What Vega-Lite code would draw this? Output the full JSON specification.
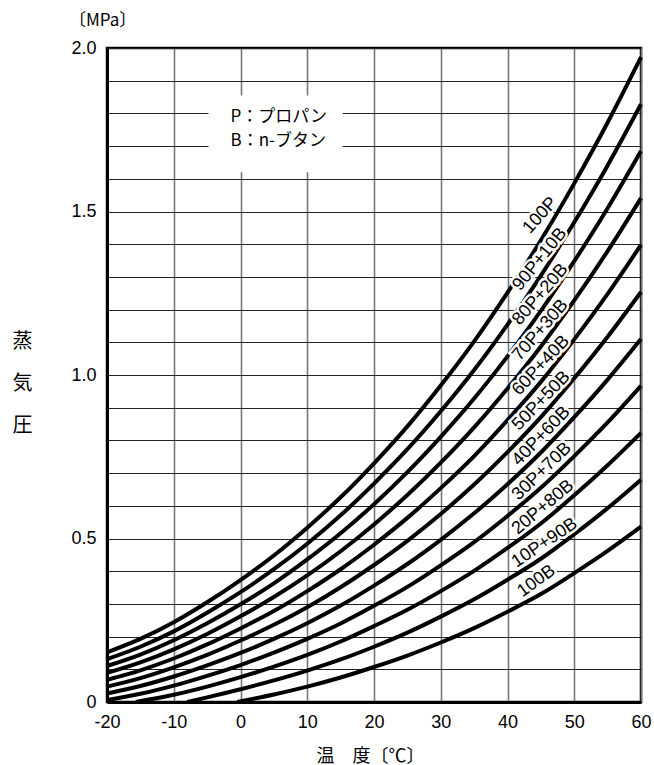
{
  "$schema": "https://vega.github.io/schema/vega-lite/v6.json",
  "autosize": {"type": "none"},
  "padding": {"left": 107, "top": 48, "right": 13, "bottom": 63},
  "width": 534,
  "height": 654,
  "background": "white",
  "config": {
    "view": {"stroke": "black", "strokeWidth": 2.5},
    "axis": {"domainColor": "black", "domainWidth": 3, "labelColor": "black", "titleColor": "black", "titleFontWeight": "normal"}
  },
  "datasets": {
    "curves": [
      {"s": "100P", "t": -20, "p": 0.152}, {"s": "100P", "t": -15, "p": 0.193}, {"s": "100P", "t": -10, "p": 0.244}, {"s": "100P", "t": -5, "p": 0.305}, {"s": "100P", "t": 0, "p": 0.373}, {"s": "100P", "t": 5, "p": 0.448}, {"s": "100P", "t": 10, "p": 0.533}, {"s": "100P", "t": 15, "p": 0.626}, {"s": "100P", "t": 20, "p": 0.730}, {"s": "100P", "t": 25, "p": 0.843}, {"s": "100P", "t": 30, "p": 0.968}, {"s": "100P", "t": 35, "p": 1.103}, {"s": "100P", "t": 40, "p": 1.252}, {"s": "100P", "t": 45, "p": 1.412}, {"s": "100P", "t": 50, "p": 1.586}, {"s": "100P", "t": 55, "p": 1.772}, {"s": "100P", "t": 60, "p": 1.972},
      {"s": "90P+10B", "t": -20, "p": 0.131}, {"s": "90P+10B", "t": -15, "p": 0.169}, {"s": "90P+10B", "t": -10, "p": 0.216}, {"s": "90P+10B", "t": -5, "p": 0.273}, {"s": "90P+10B", "t": 0, "p": 0.336}, {"s": "90P+10B", "t": 5, "p": 0.406}, {"s": "90P+10B", "t": 10, "p": 0.484}, {"s": "90P+10B", "t": 15, "p": 0.571}, {"s": "90P+10B", "t": 20, "p": 0.668}, {"s": "90P+10B", "t": 25, "p": 0.773}, {"s": "90P+10B", "t": 30, "p": 0.889}, {"s": "90P+10B", "t": 35, "p": 1.015}, {"s": "90P+10B", "t": 40, "p": 1.154}, {"s": "90P+10B", "t": 45, "p": 1.304}, {"s": "90P+10B", "t": 50, "p": 1.467}, {"s": "90P+10B", "t": 55, "p": 1.641}, {"s": "90P+10B", "t": 60, "p": 1.828},
      {"s": "80P+20B", "t": -20, "p": 0.110}, {"s": "80P+20B", "t": -15, "p": 0.145}, {"s": "80P+20B", "t": -10, "p": 0.189}, {"s": "80P+20B", "t": -5, "p": 0.241}, {"s": "80P+20B", "t": 0, "p": 0.299}, {"s": "80P+20B", "t": 5, "p": 0.363}, {"s": "80P+20B", "t": 10, "p": 0.436}, {"s": "80P+20B", "t": 15, "p": 0.516}, {"s": "80P+20B", "t": 20, "p": 0.605}, {"s": "80P+20B", "t": 25, "p": 0.703}, {"s": "80P+20B", "t": 30, "p": 0.811}, {"s": "80P+20B", "t": 35, "p": 0.928}, {"s": "80P+20B", "t": 40, "p": 1.057}, {"s": "80P+20B", "t": 45, "p": 1.196}, {"s": "80P+20B", "t": 50, "p": 1.348}, {"s": "80P+20B", "t": 55, "p": 1.510}, {"s": "80P+20B", "t": 60, "p": 1.685},
      {"s": "70P+30B", "t": -20, "p": 0.089}, {"s": "70P+30B", "t": -15, "p": 0.121}, {"s": "70P+30B", "t": -10, "p": 0.161}, {"s": "70P+30B", "t": -5, "p": 0.208}, {"s": "70P+30B", "t": 0, "p": 0.262}, {"s": "70P+30B", "t": 5, "p": 0.321}, {"s": "70P+30B", "t": 10, "p": 0.387}, {"s": "70P+30B", "t": 15, "p": 0.461}, {"s": "70P+30B", "t": 20, "p": 0.543}, {"s": "70P+30B", "t": 25, "p": 0.633}, {"s": "70P+30B", "t": 30, "p": 0.732}, {"s": "70P+30B", "t": 35, "p": 0.840}, {"s": "70P+30B", "t": 40, "p": 0.959}, {"s": "70P+30B", "t": 45, "p": 1.087}, {"s": "70P+30B", "t": 50, "p": 1.228}, {"s": "70P+30B", "t": 55, "p": 1.379}, {"s": "70P+30B", "t": 60, "p": 1.541},
      {"s": "60P+40B", "t": -20, "p": 0.068}, {"s": "60P+40B", "t": -15, "p": 0.097}, {"s": "60P+40B", "t": -10, "p": 0.133}, {"s": "60P+40B", "t": -5, "p": 0.176}, {"s": "60P+40B", "t": 0, "p": 0.225}, {"s": "60P+40B", "t": 5, "p": 0.278}, {"s": "60P+40B", "t": 10, "p": 0.339}, {"s": "60P+40B", "t": 15, "p": 0.406}, {"s": "60P+40B", "t": 20, "p": 0.481}, {"s": "60P+40B", "t": 25, "p": 0.563}, {"s": "60P+40B", "t": 30, "p": 0.654}, {"s": "60P+40B", "t": 35, "p": 0.752}, {"s": "60P+40B", "t": 40, "p": 0.862}, {"s": "60P+40B", "t": 45, "p": 0.979}, {"s": "60P+40B", "t": 50, "p": 1.109}, {"s": "60P+40B", "t": 55, "p": 1.248}, {"s": "60P+40B", "t": 60, "p": 1.398},
      {"s": "50P+50B", "t": -20, "p": 0.047}, {"s": "50P+50B", "t": -15, "p": 0.073}, {"s": "50P+50B", "t": -10, "p": 0.106}, {"s": "50P+50B", "t": -5, "p": 0.144}, {"s": "50P+50B", "t": 0, "p": 0.188}, {"s": "50P+50B", "t": 5, "p": 0.236}, {"s": "50P+50B", "t": 10, "p": 0.290}, {"s": "50P+50B", "t": 15, "p": 0.351}, {"s": "50P+50B", "t": 20, "p": 0.419}, {"s": "50P+50B", "t": 25, "p": 0.493}, {"s": "50P+50B", "t": 30, "p": 0.575}, {"s": "50P+50B", "t": 35, "p": 0.665}, {"s": "50P+50B", "t": 40, "p": 0.764}, {"s": "50P+50B", "t": 45, "p": 0.871}, {"s": "50P+50B", "t": 50, "p": 0.990}, {"s": "50P+50B", "t": 55, "p": 1.117}, {"s": "50P+50B", "t": 60, "p": 1.254},
      {"s": "40P+60B", "t": -20, "p": 0.026}, {"s": "40P+60B", "t": -15, "p": 0.049}, {"s": "40P+60B", "t": -10, "p": 0.078}, {"s": "40P+60B", "t": -5, "p": 0.112}, {"s": "40P+60B", "t": 0, "p": 0.150}, {"s": "40P+60B", "t": 5, "p": 0.193}, {"s": "40P+60B", "t": 10, "p": 0.241}, {"s": "40P+60B", "t": 15, "p": 0.295}, {"s": "40P+60B", "t": 20, "p": 0.356}, {"s": "40P+60B", "t": 25, "p": 0.422}, {"s": "40P+60B", "t": 30, "p": 0.496}, {"s": "40P+60B", "t": 35, "p": 0.577}, {"s": "40P+60B", "t": 40, "p": 0.666}, {"s": "40P+60B", "t": 45, "p": 0.763}, {"s": "40P+60B", "t": 50, "p": 0.871}, {"s": "40P+60B", "t": 55, "p": 0.986}, {"s": "40P+60B", "t": 60, "p": 1.110},
      {"s": "30P+70B", "t": -20, "p": 0.006}, {"s": "30P+70B", "t": -15, "p": 0.025}, {"s": "30P+70B", "t": -10, "p": 0.050}, {"s": "30P+70B", "t": -5, "p": 0.080}, {"s": "30P+70B", "t": 0, "p": 0.113}, {"s": "30P+70B", "t": 5, "p": 0.151}, {"s": "30P+70B", "t": 10, "p": 0.193}, {"s": "30P+70B", "t": 15, "p": 0.240}, {"s": "30P+70B", "t": 20, "p": 0.294}, {"s": "30P+70B", "t": 25, "p": 0.352}, {"s": "30P+70B", "t": 30, "p": 0.418}, {"s": "30P+70B", "t": 35, "p": 0.489}, {"s": "30P+70B", "t": 40, "p": 0.569}, {"s": "30P+70B", "t": 45, "p": 0.655}, {"s": "30P+70B", "t": 50, "p": 0.752}, {"s": "30P+70B", "t": 55, "p": 0.855}, {"s": "30P+70B", "t": 60, "p": 0.967},
      {"s": "20P+80B", "t": -15.7, "p": 0.0}, {"s": "20P+80B", "t": -10, "p": 0.022}, {"s": "20P+80B", "t": -5, "p": 0.047}, {"s": "20P+80B", "t": 0, "p": 0.076}, {"s": "20P+80B", "t": 5, "p": 0.108}, {"s": "20P+80B", "t": 10, "p": 0.144}, {"s": "20P+80B", "t": 15, "p": 0.185}, {"s": "20P+80B", "t": 20, "p": 0.232}, {"s": "20P+80B", "t": 25, "p": 0.282}, {"s": "20P+80B", "t": 30, "p": 0.339}, {"s": "20P+80B", "t": 35, "p": 0.401}, {"s": "20P+80B", "t": 40, "p": 0.471}, {"s": "20P+80B", "t": 45, "p": 0.546}, {"s": "20P+80B", "t": 50, "p": 0.632}, {"s": "20P+80B", "t": 55, "p": 0.724}, {"s": "20P+80B", "t": 60, "p": 0.823},
      {"s": "10P+90B", "t": -8, "p": 0.0}, {"s": "10P+90B", "t": -5, "p": 0.014}, {"s": "10P+90B", "t": 0, "p": 0.039}, {"s": "10P+90B", "t": 5, "p": 0.066}, {"s": "10P+90B", "t": 10, "p": 0.096}, {"s": "10P+90B", "t": 15, "p": 0.130}, {"s": "10P+90B", "t": 20, "p": 0.169}, {"s": "10P+90B", "t": 25, "p": 0.212}, {"s": "10P+90B", "t": 30, "p": 0.261}, {"s": "10P+90B", "t": 35, "p": 0.314}, {"s": "10P+90B", "t": 40, "p": 0.374}, {"s": "10P+90B", "t": 45, "p": 0.438}, {"s": "10P+90B", "t": 50, "p": 0.513}, {"s": "10P+90B", "t": 55, "p": 0.593}, {"s": "10P+90B", "t": 60, "p": 0.680},
      {"s": "100B", "t": -0.5, "p": 0.0}, {"s": "100B", "t": 5, "p": 0.023}, {"s": "100B", "t": 10, "p": 0.047}, {"s": "100B", "t": 15, "p": 0.075}, {"s": "100B", "t": 20, "p": 0.107}, {"s": "100B", "t": 25, "p": 0.142}, {"s": "100B", "t": 30, "p": 0.182}, {"s": "100B", "t": 35, "p": 0.226}, {"s": "100B", "t": 40, "p": 0.276}, {"s": "100B", "t": 45, "p": 0.330}, {"s": "100B", "t": 50, "p": 0.394}, {"s": "100B", "t": 55, "p": 0.462}, {"s": "100B", "t": 60, "p": 0.536}
    ]
  },
  "layer": [
    {
      "data": {"name": "curves"},
      "mark": {"type": "line", "color": "black", "strokeWidth": 4, "interpolate": "monotone"},
      "encoding": {
        "x": {"field": "t", "type": "quantitative",
          "scale": {"domain": [-20, 60], "nice": false, "zero": false},
          "axis": {"title": "温　度〔℃〕", "values": [-20, -10, 0, 10, 20, 30, 40, 50, 60], "tickCount": 20,
            "labelExpr": "datum.value < 0 ? '-' + abs(datum.value) : '' + datum.value",
            "ticks": false, "tickSize": 0, "labelPadding": 11, "labelFontSize": 18, "labelFont": "Liberation Sans",
            "labelFlush": false, "labelOverlap": false,
            "grid": true, "gridColor": "#777777", "gridWidth": 1.6,
            "titleFont": "Noto Sans CJK JP", "titleFontSize": 18, "titleX": 263, "titleY": 45, "titleAlign": "center", "titleBaseline": "top"}},
        "y": {"field": "p", "type": "quantitative",
          "scale": {"domain": [0, 2.0], "nice": false},
          "axis": {"title": ["蒸", "気", "圧"], "values": [0, 0.1, 0.2, 0.3, 0.4, 0.5, 0.6, 0.7, 0.8, 0.9, 1.0, 1.1, 1.2, 1.3, 1.4, 1.5, 1.6, 1.7, 1.8, 1.9, 2.0], "tickCount": 40,
            "labelExpr": "datum.value == 0 ? '0' : (abs(datum.value * 2 - round(datum.value * 2)) < 0.001 ? format(datum.value, '.1f') : '')",
            "ticks": false, "tickSize": 0, "labelPadding": 11, "labelFontSize": 18, "labelFont": "Liberation Sans",
            "labelOverlap": false, "labelFlush": false,
            "grid": true, "gridColor": "#222222", "gridWidth": 1.1,
            "titleAngle": 0, "titleFont": "Noto Sans CJK JP", "titleFontSize": 20, "titleLineHeight": 42,
            "titleAlign": "center", "titleBaseline": "top", "titleX": -85, "titleY": 283}},
        "detail": {"field": "s", "type": "nominal"}
      }
    },
    {
      "data": {"values": [{}]},
      "mark": {"type": "rect", "fill": "white", "stroke": null},
      "encoding": {"x": {"datum": -4.8}, "x2": {"datum": 15.3}, "y": {"datum": 1.855}, "y2": {"datum": 1.62}}
    },
    {
      "data": {"values": [{}]},
      "mark": {"type": "text", "text": "P：プロパン", "font": "Noto Sans CJK JP", "fontSize": 17, "align": "left", "baseline": "middle", "color": "black"},
      "encoding": {"x": {"datum": -1.5}, "y": {"datum": 1.79}}
    },
    {
      "data": {"values": [{}]},
      "mark": {"type": "text", "text": "B：n-ブタン", "font": "Noto Sans CJK JP", "fontSize": 17, "align": "left", "baseline": "middle", "color": "black"},
      "encoding": {"x": {"datum": -1.5}, "y": {"datum": 1.715}}
    },
    {
      "data": {"values": [{}]},
      "mark": {"type": "text", "text": "〔MPa〕", "font": "Noto Sans CJK JP", "fontSize": 17, "align": "left", "baseline": "middle", "color": "black", "dx": -38, "dy": -27},
      "encoding": {"x": {"datum": -20}, "y": {"datum": 2.0}}
    },
    {
      "data": {"name": "curves"},
      "transform": [{"filter": "datum.t == 45 && datum.s != '100P' && datum.s != '100B'"}],
      "mark": {"type": "text", "font": "Liberation Sans", "fontSize": 18, "align": "center", "baseline": "middle", "dx": 12, "dy": -11, "fill": "white", "stroke": "white", "strokeWidth": 5},
      "encoding": {
        "x": {"field": "t", "type": "quantitative"}, "y": {"field": "p", "type": "quantitative"},
        "text": {"field": "s"},
        "angle": {"field": "s", "type": "nominal", "legend": null, "scale": {"type": "ordinal",
          "domain": ["90P+10B", "80P+20B", "70P+30B", "60P+40B", "50P+50B", "40P+60B", "30P+70B", "20P+80B", "10P+90B"],
          "range": [309, 311, 311, 313, 314, 314, 316, 320, 326]}}
      }
    },
    {
      "data": {"name": "curves"},
      "transform": [{"filter": "datum.t == 45 && datum.s != '100P' && datum.s != '100B'"}],
      "mark": {"type": "text", "font": "Liberation Sans", "fontSize": 18, "align": "center", "baseline": "middle", "dx": 12, "dy": -11, "fill": "black"},
      "encoding": {
        "x": {"field": "t", "type": "quantitative"}, "y": {"field": "p", "type": "quantitative"},
        "text": {"field": "s"},
        "angle": {"field": "s", "type": "nominal", "legend": null, "scale": {"type": "ordinal",
          "domain": ["90P+10B", "80P+20B", "70P+30B", "60P+40B", "50P+50B", "40P+60B", "30P+70B", "20P+80B", "10P+90B"],
          "range": [309, 311, 311, 313, 314, 314, 316, 320, 326]}}
      }
    },
    {
      "data": {"name": "curves"},
      "transform": [{"filter": "datum.t == 45 && datum.s == '100P'"}],
      "mark": {"type": "text", "font": "Liberation Sans", "fontSize": 18, "align": "center", "baseline": "middle", "dx": 18, "dy": -17, "angle": 312, "fill": "white", "stroke": "white", "strokeWidth": 5},
      "encoding": {"x": {"field": "t", "type": "quantitative"}, "y": {"field": "p", "type": "quantitative"}, "text": {"field": "s"}}
    },
    {
      "data": {"name": "curves"},
      "transform": [{"filter": "datum.t == 45 && datum.s == '100P'"}],
      "mark": {"type": "text", "font": "Liberation Sans", "fontSize": 18, "align": "center", "baseline": "middle", "dx": 18, "dy": -17, "angle": 312, "fill": "black"},
      "encoding": {"x": {"field": "t", "type": "quantitative"}, "y": {"field": "p", "type": "quantitative"}, "text": {"field": "s"}}
    },
    {
      "data": {"name": "curves"},
      "transform": [{"filter": "datum.t == 45 && datum.s == '100B'"}],
      "mark": {"type": "text", "font": "Liberation Sans", "fontSize": 18, "align": "center", "baseline": "middle", "dx": 4, "dy": -13, "angle": 324, "fill": "white", "stroke": "white", "strokeWidth": 5},
      "encoding": {"x": {"field": "t", "type": "quantitative"}, "y": {"field": "p", "type": "quantitative"}, "text": {"field": "s"}}
    },
    {
      "data": {"name": "curves"},
      "transform": [{"filter": "datum.t == 45 && datum.s == '100B'"}],
      "mark": {"type": "text", "font": "Liberation Sans", "fontSize": 18, "align": "center", "baseline": "middle", "dx": 4, "dy": -13, "angle": 324, "fill": "black"},
      "encoding": {"x": {"field": "t", "type": "quantitative"}, "y": {"field": "p", "type": "quantitative"}, "text": {"field": "s"}}
    }
  ]
}
